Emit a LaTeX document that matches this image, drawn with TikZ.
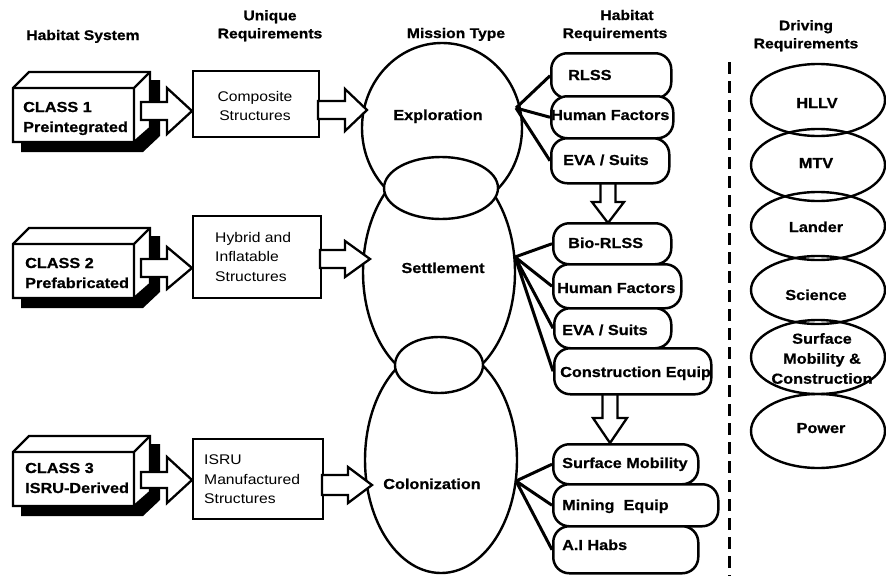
\documentclass[tikz,border=0pt]{standalone}
\usepackage{fontspec}
\setmainfont{Liberation Sans}[FakeStretch=1.12, BoldFeatures={FakeBold=0.8}]
\usetikzlibrary{shapes.geometric}
\newcommand\blkR[6]{\draw[blk] (#1,#4-#5) -- (#2,#4-#5) -- (#2,#4-#6) -- (#3,#4) -- (#2,#4+#6) -- (#2,#4+#5) -- (#1,#4+#5) -- cycle;}
\newcommand\blkD[6]{\draw[blk] (#1-#5,#2) -- (#1-#5,#3) -- (#1-#6,#3) -- (#1,#4) -- (#1+#6,#3) -- (#1+#5,#3) -- (#1+#5,#2) -- cycle;}
\newcommand\classbox[3]{%
 \fill (#2+8,#3+8) -- (#2+24,#3-8) -- (#2+147,#3-8) -- (#2+147,#3+48) -- (#2+130,#3+64) -- (#2+8,#3+64) -- cycle;
 \draw[boxl, fill=white] (#2,#3) -- (#2+16,#3-16) -- (#2+137,#3-16) -- (#2+137,#3+40) -- (#2+121,#3+54) -- (#2,#3+54) -- cycle;
 \draw[boxl] (#2,#3) -- (#2+121,#3) -- (#2+121,#3+54) (#2+121,#3) -- (#2+137,#3-16);
 \node[inner sep=0pt, minimum width=121pt, minimum height=54pt, anchor=north west] (#1) at (#2,#3) {};}
\begin{document}
\begin{tikzpicture}[x=1pt,y=-1pt,
  boxl/.style={line width=2.3pt, line join=miter},
  ell/.style={draw, ellipse, line width=2.4pt, inner sep=0pt},
  pill/.style={draw, line width=2.5pt, rounded corners=16pt, fill=white, inner sep=0pt, anchor=north west},
  ubox/.style={draw, line width=2.3pt, fill=white, inner sep=0pt, anchor=north west},
  blk/.style={draw, line width=2.3pt, fill=white, line join=miter},
  con/.style={line width=3pt},
  bt/.style={font=\bfseries\fontsize{14.5}{20}\selectfont, inner sep=0pt},
  rt/.style={font=\fontsize{14}{19.5}\selectfont, inner sep=0pt},
  hd/.style={font=\bfseries\fontsize{14}{18}\selectfont, inner sep=0pt},
  cw/.style={anchor=base west, yshift=-5pt},
  cc/.style={anchor=base, yshift=-5pt}]
\useasboundingbox (0,0) rectangle (886,576);
\fill[white] (0,0) rectangle (886,576);

% headers
\node[hd, cc] (h1) at (83,35) {Habitat System};
\node[hd, anchor=north, align=center] (h2) at (270,10) {Unique\\Requirements};
\node[hd, cc] (h3) at (456,33) {Mission Type};
\node[hd, cc] (h4a) at (627,15) {Habitat};
\node[hd, cc] (h4b) at (615,33) {Requirements};
\node[hd, anchor=north, align=center] (h5) at (806,20) {Driving\\Requirements};

% class boxes
\classbox{cl1}{13}{88}
\classbox{cl2}{13}{244}
\classbox{cl3}{13}{452}
\node[bt, cw] (c1a) at (23,107) {CLASS 1};
\node[bt, cw] (c1b) at (23,127) {Preintegrated};
\node[bt, cw] (c2a) at (25,263) {CLASS 2};
\node[bt, cw] (c2b) at (25,283) {Prefabricated};
\node[bt, cw] (c3a) at (25,468) {CLASS 3};
\node[bt, cw] (c3b) at (25,488) {ISRU-Derived};

% unique requirement boxes
\node[ubox, minimum width=126pt, minimum height=66pt] (u1) at (192,70) {};
\node[ubox, minimum width=128pt, minimum height=82pt] (u2) at (192,215) {};
\node[ubox, minimum width=130pt, minimum height=80pt] (u3) at (192,438) {};
\node[rt, anchor=north, align=center] (u1t) at (255,91) {Composite\\Structures};
\node[rt, anchor=north west, align=left] (u2t) at (215,232) {Hybrid and\\Inflatable\\Structures};
\node[rt, anchor=north west, align=left] (u3t) at (204,455) {ISRU\\Manufactured\\Structures};

% block arrows class -> unique
\blkR{141}{167}{192}{111}{9}{23}
\blkR{141}{167}{192}{268}{9}{21}
\blkR{141}{167}{192}{480}{8}{23}

% mission ellipses
\node[ell, minimum width=160pt, minimum height=170pt] (expl) at (442,128) {};
\node[ell, minimum width=152pt, minimum height=224pt] (sett) at (439,272) {};
\node[ell, minimum width=152pt, minimum height=226pt] (colo) at (441,460) {};
\node[ell, fill=white, minimum width=114pt, minimum height=62pt] (lens1) at (441,188) {};
\node[ell, fill=white, minimum width=88pt, minimum height=56pt] (lens2) at (439,365) {};
\node[bt, cc] (et) at (438,115) {Exploration};
\node[bt, cc] (st) at (443,268) {Settlement};
\node[bt, cc] (ct) at (432,484) {Colonization};

% block arrows unique -> mission
\blkR{318}{345}{367}{110}{9}{21}
\blkR{320}{345}{370}{259}{9}{18}
\blkR{322}{348}{372}{485}{10}{18}

% down arrows
\blkD{608}{172}{202}{223}{7.5}{16}
\blkD{610}{385}{418}{443}{7.5}{17}

% junction points
\coordinate (jE) at (516,108);
\coordinate (jS) at (515,257);
\coordinate (jC) at (516,481);

% habitat requirement pills
\node[pill, minimum width=120pt, minimum height=45pt] (p1) at (550,52) {};
\node[pill, minimum width=122pt, minimum height=42pt] (p2) at (550,95) {};
\node[pill, minimum width=118pt, minimum height=45pt] (p3) at (550,137) {};
\node[pill, minimum width=118pt, minimum height=41pt] (p4) at (552,222) {};
\node[pill, minimum width=128pt, minimum height=44pt] (p5) at (552,263) {};
\node[pill, minimum width=117pt, minimum height=40pt] (p6) at (553,307) {};
\node[pill, minimum width=157pt, minimum height=46pt] (p7) at (553,347) {};
\node[pill, minimum width=145pt, minimum height=40pt] (p8) at (552,443) {};
\node[pill, minimum width=165pt, minimum height=42pt] (p9) at (552,483) {};
\node[pill, minimum width=145pt, minimum height=47pt] (p10) at (552,525) {};

\draw[con] (jE) -- (p1.west) (jE) -- (p2.west) (jE) -- (p3.west);
\draw[con] (jS) -- (p4.west) (jS) -- (p5.west) (jS) -- (p6.west) (jS) -- (p7.west);
\draw[con] (jC) -- (p8.west) (jC) -- (p9.west) (jC) -- (p10.west);

\node[bt, cw] (t1) at (568,75) {RLSS};
\node[bt, cw] (t2) at (551,115) {Human Factors};
\node[bt, cw] (t3) at (563,160) {EVA / Suits};
\node[bt, cw] (t4) at (568,243) {Bio-RLSS};
\node[bt, cw] (t5) at (557,288) {Human Factors};
\node[bt, cw] (t6) at (562,330) {EVA / Suits};
\node[bt, cw] (t7) at (560,372) {Construction Equip};
\node[bt, cw] (t8) at (562,463) {Surface Mobility};
\node[bt, cw] (t9) at (562,505) {Mining\ \ Equip};
\node[bt, cw] (t10) at (562,545) {A.I Habs};

% divider
\coordinate (dA) at (729,62);
\coordinate (dB) at (729,576);
\draw[line width=3pt, dash pattern=on 12pt off 7pt] (dA) -- (dB);

% driving requirement ellipses
\node[ell, minimum width=134pt, minimum height=72pt] (d1) at (818,100) {};
\node[ell, minimum width=134pt, minimum height=72pt] (d2) at (818,165) {};
\node[ell, minimum width=134pt, minimum height=68pt] (d3) at (818,226) {};
\node[ell, minimum width=134pt, minimum height=68pt] (d4) at (818,290) {};
\node[ell, minimum width=134pt, minimum height=74pt] (d5) at (818,357) {};
\node[ell, minimum width=134pt, minimum height=74pt] (d6) at (818,431) {};
\node[bt, cc] (dt1) at (817,103) {HLLV};
\node[bt, cc] (dt2) at (816,163) {MTV};
\node[bt, cc] (dt3) at (816,227) {Lander};
\node[bt, cc] (dt4) at (816,295) {Science};
\node[bt, anchor=north, align=center] (dt5) at (822,333) {Surface\\Mobility \&\\Construction};
\node[bt, cc] (dt6) at (821,428) {Power};
\end{tikzpicture}
\end{document}
